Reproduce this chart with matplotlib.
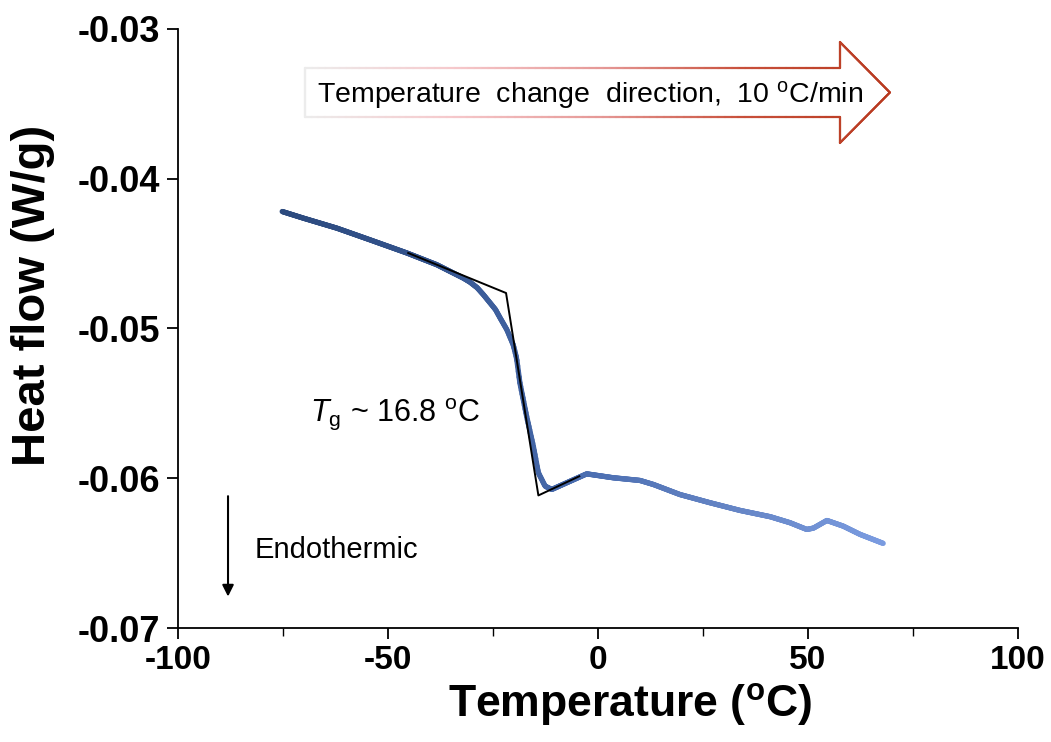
import matplotlib
matplotlib.use("Agg")
import matplotlib.pyplot as plt
from matplotlib.collections import LineCollection
from matplotlib.colors import LinearSegmentedColormap
import numpy as np

plt.rcParams["font.family"] = ["Liberation Sans", "DejaVu Sans"]
plt.rcParams["mathtext.fontset"] = "custom"
plt.rcParams["mathtext.rm"] = "Liberation Sans"
plt.rcParams["mathtext.it"] = "Liberation Sans:italic"
plt.rcParams["mathtext.bf"] = "Liberation Sans:bold"

# DSC heating scan
temperature = [-75.2, -70.2, -62.2, -54.3, -45.5, -38.4, -32.1, -30.5, -28.8,
               -27.3, -25.7, -24.4, -23.3, -21.7, -20.2, -19.4, -18.6, -17.0,
               -15.4, -14.2, -12.6, -11.0, -7.5, -2.7, 3.6, 10.0, 13.2, 19.5,
               26.7, 33.8, 41.0, 45.7, 49.7, 51.3, 54.5, 58.4, 62.4, 67.9]
heat_flow = [-0.04220, -0.04264, -0.04331, -0.04409, -0.04497, -0.04575,
             -0.04664, -0.04691, -0.04728, -0.04775, -0.04830, -0.04875,
             -0.04931, -0.05009, -0.05109, -0.05197, -0.05364, -0.05587,
             -0.05787, -0.05964, -0.06053, -0.06075, -0.06031, -0.05971,
             -0.05997, -0.06015, -0.06042, -0.06109, -0.06164, -0.06215,
             -0.06257, -0.06297, -0.06342, -0.06333, -0.06282, -0.06320,
             -0.06375, -0.06435]

# tangent construction for the glass transition
tangent_t = [-45.2, -21.9, -14.2, -4.45]
tangent_h = [-0.04497, -0.04764, -0.06115, -0.05987]

x_ticks = [-100, -50, 0, 50, 100]
y_ticks = [-0.07, -0.06, -0.05, -0.04, -0.03]

fig = plt.figure(figsize=(10.51, 7.42), dpi=100)
ax = fig.add_axes([0.1694, 0.1536, 0.7992, 0.8077])

# resample the trace so the colour fades smoothly along it
t_fine = np.linspace(temperature[0], temperature[-1], 800)
h_fine = np.interp(t_fine, temperature, heat_flow)
pts = np.column_stack([t_fine, h_fine]).reshape(-1, 1, 2)
segs = np.concatenate([pts[:-1], pts[1:]], axis=1)
blues = LinearSegmentedColormap.from_list(
    "trace", ["#2c4a7e", "#34548e", "#4a6db0", "#6585c5", "#7a9be0"])
lc = LineCollection(segs, cmap=blues, linewidths=3.8, capstyle="round",
                    joinstyle="round")
lc.set_array(np.linspace(0, 1, len(segs)))
ax.add_collection(lc)

ax.plot(tangent_t, tangent_h, color="black", lw=1.4, zorder=3)

ax.set_xlim(-100, 100)
ax.set_ylim(-0.07, -0.03)
ax.set_xticks(x_ticks)
ax.set_xticks([-75, -25, 25, 75], minor=True)
ax.set_yticks(y_ticks)
ax.set_yticklabels([f"{v:.2f}" for v in y_ticks])
ax.set_xticklabels([str(v) for v in x_ticks])
for s in ["top", "right"]:
    ax.spines[s].set_visible(False)
for s in ["left", "bottom"]:
    ax.spines[s].set_linewidth(1.3)
ax.tick_params(axis="both", which="major", direction="out", length=8,
               width=1.3)
ax.tick_params(axis="x", labelsize=24, pad=4)
ax.tick_params(axis="y", labelsize=26, pad=5)
ax.tick_params(axis="x", which="minor", direction="out", length=6, width=1.0)
for lab in ax.get_xticklabels() + ax.get_yticklabels():
    lab.set_fontweight("bold")

ax.set_xlabel(r"Temperature ($^{\mathbf{o}}$C)", fontsize=32,
              fontweight="bold")
ax.xaxis.set_label_coords(0.538, -0.088)
ax.set_ylabel("Heat flow (W/g)", fontsize=34, fontweight="bold")
ax.yaxis.set_label_coords(-0.146, 0.555)

ax.text(-68.6, -0.0557, r"$T$$_{\mathrm{g}}$ ~ 16.8 $^{\mathrm{o}}$C",
        fontsize=22, va="center", ha="left")

# endothermic direction marker
ax.annotate("", xy=(-88.1, -0.0679), xytext=(-88.1, -0.0612),
            arrowprops=dict(arrowstyle="-|>", color="black", lw=1.5,
                            mutation_scale=17, shrinkA=0, shrinkB=0))
ax.text(-81.7, -0.0648, "Endothermic", fontsize=21, va="center", ha="left")

# block arrow for scan direction, outline fading from pink to red
body_l, body_r, tip = -69.8, 57.6, 69.5
body_top, body_bot = -0.03262, -0.03589
head_top, head_bot = -0.03089, -0.03762
mid = (body_top + body_bot) / 2
outline = np.array([
    [body_l, body_bot], [body_r, body_bot], [body_r, head_bot], [tip, mid],
    [body_r, head_top], [body_r, body_top], [body_l, body_top],
    [body_l, body_bot]])
pieces = []
for a, b in zip(outline[:-1], outline[1:]):
    f = np.linspace(0, 1, 80)[:, None]
    seg = a + (b - a) * f
    pieces.append(np.concatenate([seg[:-1, None], seg[1:, None]], axis=1))
arrow_segs = np.concatenate(pieces)
reds = LinearSegmentedColormap.from_list(
    "edge", ["#ececec", "#f6c9cc", "#e69a98", "#c8503b", "#b8391f"])
xc = arrow_segs[:, :, 0].mean(axis=1)
arrow_lc = LineCollection(arrow_segs, cmap=reds, linewidths=1.6,
                          capstyle="round")
arrow_lc.set_array((xc - body_l) / (tip - body_l))
ax.add_collection(arrow_lc)
ax.text(-2.0, -0.03445, r"Temperature  change  direction,  10 $^{\mathrm{o}}$C/min",
        fontsize=20.5, ha="center", va="center")

fig.savefig("out.png", dpi=100)
